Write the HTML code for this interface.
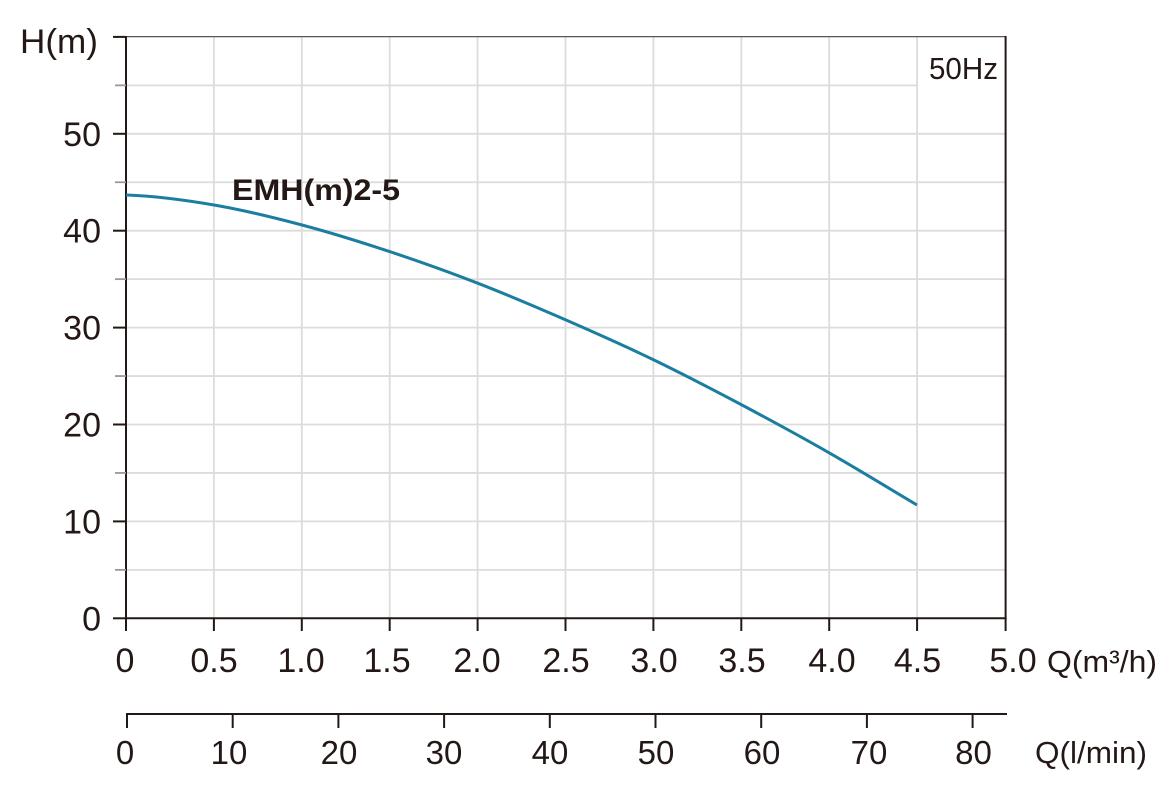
<!DOCTYPE html>
<html>
<head>
<meta charset="utf-8">
<style>
html,body{margin:0;padding:0;background:#fff;}
svg{display:block;}
text{font-family:"Liberation Sans",sans-serif;fill:#231815;}
</style>
</head>
<body>
<svg width="1170" height="794" viewBox="0 0 1170 794" xmlns="http://www.w3.org/2000/svg">
  <!-- grid -->
  <g stroke="#dcdcdc" stroke-width="1.8" fill="none">
    <line x1="213.9" y1="37" x2="213.9" y2="618"/>
    <line x1="301.8" y1="37" x2="301.8" y2="618"/>
    <line x1="389.7" y1="37" x2="389.7" y2="618"/>
    <line x1="477.6" y1="37" x2="477.6" y2="618"/>
    <line x1="565.5" y1="37" x2="565.5" y2="618"/>
    <line x1="653.4" y1="37" x2="653.4" y2="618"/>
    <line x1="741.3" y1="37" x2="741.3" y2="618"/>
    <line x1="829.2" y1="37" x2="829.2" y2="618"/>
    <line x1="917.1" y1="37" x2="917.1" y2="618"/>
    <line x1="126" y1="569.85" x2="1005" y2="569.85"/>
    <line x1="126" y1="521.4" x2="1005" y2="521.4"/>
    <line x1="126" y1="472.95" x2="1005" y2="472.95"/>
    <line x1="126" y1="424.5" x2="1005" y2="424.5"/>
    <line x1="126" y1="376.05" x2="1005" y2="376.05"/>
    <line x1="126" y1="327.6" x2="1005" y2="327.6"/>
    <line x1="126" y1="279.15" x2="1005" y2="279.15"/>
    <line x1="126" y1="230.7" x2="1005" y2="230.7"/>
    <line x1="126" y1="182.25" x2="1005" y2="182.25"/>
    <line x1="126" y1="133.8" x2="1005" y2="133.8"/>
    <line x1="126" y1="85.35" x2="917" y2="85.35"/>
  </g>

  <!-- frame -->
  <line x1="126" y1="36.6" x2="1006" y2="36.6" stroke="#555" stroke-width="1.3"/>
  <line x1="1005.6" y1="36" x2="1005.6" y2="619" stroke="#231815" stroke-width="2"/>
  <line x1="126" y1="36" x2="126" y2="619.3" stroke="#231815" stroke-width="2"/>
  <line x1="125" y1="618.3" x2="1006.6" y2="618.3" stroke="#231815" stroke-width="2"/>

  <!-- left ticks -->
  <g stroke="#231815" stroke-width="2">
    <line x1="113" y1="618.3" x2="126" y2="618.3"/>
    <line x1="113" y1="521.4" x2="126" y2="521.4"/>
    <line x1="113" y1="424.5" x2="126" y2="424.5"/>
    <line x1="113" y1="327.6" x2="126" y2="327.6"/>
    <line x1="113" y1="230.7" x2="126" y2="230.7"/>
    <line x1="113" y1="133.8" x2="126" y2="133.8"/>
    <line x1="113" y1="36.9" x2="126" y2="36.9"/>
  </g>
  <g stroke="#999" stroke-width="1.8">
    <line x1="115" y1="569.85" x2="126" y2="569.85"/>
    <line x1="115" y1="472.95" x2="126" y2="472.95"/>
    <line x1="115" y1="376.05" x2="126" y2="376.05"/>
    <line x1="115" y1="279.15" x2="126" y2="279.15"/>
    <line x1="115" y1="182.25" x2="126" y2="182.25"/>
    <line x1="115" y1="85.35" x2="126" y2="85.35"/>
  </g>

  <!-- bottom ticks -->
  <g stroke="#231815" stroke-width="2">
    <line x1="126" y1="618" x2="126" y2="631"/>
    <line x1="213.9" y1="618" x2="213.9" y2="631"/>
    <line x1="301.8" y1="618" x2="301.8" y2="631"/>
    <line x1="389.7" y1="618" x2="389.7" y2="631"/>
    <line x1="477.6" y1="618" x2="477.6" y2="631"/>
    <line x1="565.5" y1="618" x2="565.5" y2="631"/>
    <line x1="653.4" y1="618" x2="653.4" y2="631"/>
    <line x1="741.3" y1="618" x2="741.3" y2="631"/>
    <line x1="829.2" y1="618" x2="829.2" y2="631"/>
    <line x1="917.1" y1="618" x2="917.1" y2="631"/>
    <line x1="1005.6" y1="618" x2="1005.6" y2="631"/>
  </g>

  <!-- secondary axis -->
  <line x1="126" y1="714" x2="1007" y2="714" stroke="#231815" stroke-width="2"/>
  <g stroke="#231815" stroke-width="2">
    <line x1="127" y1="713" x2="127" y2="728"/>
    <line x1="232.7" y1="713" x2="232.7" y2="728"/>
    <line x1="338.4" y1="713" x2="338.4" y2="728"/>
    <line x1="444.1" y1="713" x2="444.1" y2="728"/>
    <line x1="549.8" y1="713" x2="549.8" y2="728"/>
    <line x1="655.5" y1="713" x2="655.5" y2="728"/>
    <line x1="761.2" y1="713" x2="761.2" y2="728"/>
    <line x1="866.9" y1="713" x2="866.9" y2="728"/>
    <line x1="972.6" y1="713" x2="972.6" y2="728"/>
  </g>

  <!-- curve -->
  <path d="M126,195 C155,196 184.7,200 214,205 C243.3,210 272.7,217.2 302,225 C331.3,232.8 360.7,242 390,251.7 C419.3,261.4 448.7,271.9 478,283.3 C507.3,294.7 536.7,307.2 566,320 C595.3,332.8 624.7,345.8 654,360 C683.3,374.2 712.7,389.5 742,405 C771.3,420.6 800.8,436.6 830,453.3 C859.2,470 888,487.8 917,505"
        fill="none" stroke="#1b7ea1" stroke-width="3"/>

  <!-- texts -->
  <text x="20" y="53" font-size="34" textLength="78" lengthAdjust="spacingAndGlyphs">H(m)</text>
  <g font-size="34" text-anchor="end">
    <text x="101" y="630.5">0</text>
    <text x="101" y="533.5">10</text>
    <text x="101" y="436.5">20</text>
    <text x="101" y="339.5">30</text>
    <text x="101" y="242.5">40</text>
    <text x="101" y="146">50</text>
  </g>
  <text x="232" y="200" font-size="30" font-weight="bold" textLength="168" lengthAdjust="spacingAndGlyphs">EMH(m)2-5</text>
  <text x="929" y="79" font-size="31" textLength="69" lengthAdjust="spacingAndGlyphs">50Hz</text>

  <g font-size="34" text-anchor="middle">
    <text x="125" y="672">0</text>
    <text x="214" y="672">0.5</text>
    <text x="301" y="672">1.0</text>
    <text x="387" y="672">1.5</text>
    <text x="477" y="672">2.0</text>
    <text x="566" y="672">2.5</text>
    <text x="654" y="672">3.0</text>
    <text x="742" y="672">3.5</text>
    <text x="832" y="672">4.0</text>
    <text x="917.5" y="672">4.5</text>
    <text x="1013" y="672">5.0</text>
  </g>
  <text x="1047" y="672" font-size="31" textLength="110" lengthAdjust="spacingAndGlyphs">Q(m³/h)</text>

  <g font-size="33" text-anchor="middle">
    <text x="125" y="764">0</text>
    <text x="229" y="764">10</text>
    <text x="339" y="764">20</text>
    <text x="444" y="764">30</text>
    <text x="550" y="764">40</text>
    <text x="656" y="764">50</text>
    <text x="762" y="764">60</text>
    <text x="869" y="764">70</text>
    <text x="973.5" y="764">80</text>
  </g>
  <text x="1035" y="763" font-size="31" textLength="112" lengthAdjust="spacingAndGlyphs">Q(l/min)</text>
</svg>
</body>
</html>
